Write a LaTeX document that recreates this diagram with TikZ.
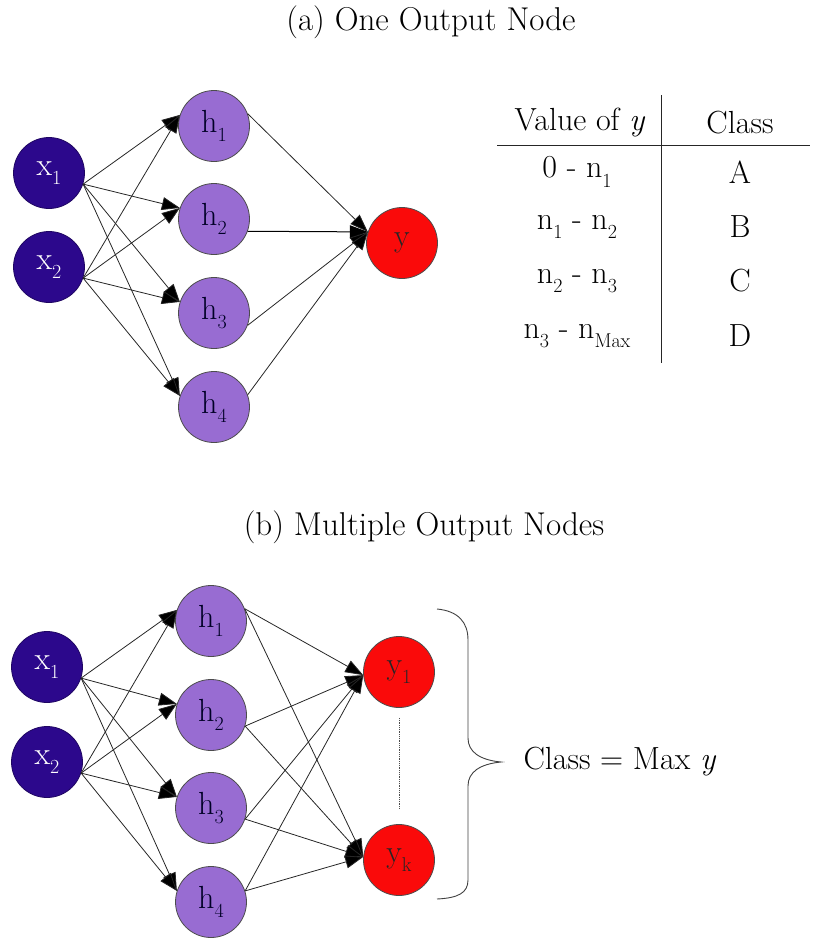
\documentclass[tikz,border=0pt]{standalone}
\usepackage{fontspec}
\usetikzlibrary{arrows.meta}
\definecolor{xblue}{RGB}{44,8,140}
\definecolor{hpurple}{RGB}{152,108,210}
\definecolor{yred}{RGB}{250,10,10}
\newcommand{\lowsub}[1]{\raisebox{-0.3em}{\fontsize{20}{20}\selectfont #1}}
\begin{document}
\begin{tikzpicture}[x=1pt,y=-1pt,
 neuron/.style={circle,draw,minimum size=71pt,inner sep=0pt,line width=0.8pt,font=\fontsize{32}{36}\selectfont},
 xnode/.style={neuron,fill=xblue,draw=xblue!70!black,text=white},
 hnode/.style={neuron,fill=hpurple,draw=black!70,text=black!85!blue},
 ynode/.style={neuron,fill=yred,draw=black!70,text=black!85},
 link/.style={draw=black!85,line width=0.8pt,-{Triangle[length=18pt,width=13pt,fill=black]}},
 title/.style={font=\fontsize{33}{38}\selectfont},
 cell/.style={font=\fontsize{32}{36}\selectfont},
 rule/.style={draw=black!85,line width=0.9pt}]
\useasboundingbox (0,0) rectangle (814,938);

% titles
\node[title] (ta) at (431,22) {(a) One Output Node};
\node[title] (tb) at (424,527) {(b) Multiple Output Nodes};

% ---------- (a) ----------
\node[xnode] (ax1) at (49,173) {x\lowsub{1}};
\node[xnode] (ax2) at (49,267) {x\lowsub{2}};
\node[hnode] (ah1) at (214,126) {h\lowsub{1}};
\node[hnode] (ah2) at (214,219) {h\lowsub{2}};
\node[hnode] (ah3) at (214,313) {h\lowsub{3}};
\node[hnode] (ah4) at (214,407) {h\lowsub{4}};
\node[ynode] (ay) at (402,243) {y};

\foreach \i in {1,2}{
  \foreach \j in {1,2,3,4}{
    \draw[link] (ax\i.-18) -- (ah\j.162);
  }
}
\draw[link] (ah1.20) -- (ay.162);
\draw[link,draw=black,line width=1pt] (ah2.-20) -- (ay.162);
\draw[link] (ah3.-20) -- (ay.162);
\draw[link] (ah4.20) -- (ay.162);

% table
\node[cell] (tv) at (580,123) {Value of \textit{y}};
\node[cell] (tc) at (740,123) {Class};
\node[cell] (r1) at (577,172) {0 - n\lowsub{1}};
\node[cell] (r2) at (577,227) {n\lowsub{1} - n\lowsub{2}};
\node[cell] (r3) at (577,281) {n\lowsub{2} - n\lowsub{3}};
\node[cell] (r4) at (577,336) {n\lowsub{3} - n\lowsub{Max}};
\node[cell] (c1) at (740,172) {A};
\node[cell] (c2) at (740,227) {B};
\node[cell] (c3) at (740,281) {C};
\node[cell] (c4) at (740,336) {D};
\draw[rule] (497,145) -- (810,145);
\draw[rule] (661,95) -- (661,363);

% ---------- (b) ----------
\node[xnode] (bx1) at (47,667) {x\lowsub{1}};
\node[xnode] (bx2) at (47,762) {x\lowsub{2}};
\node[hnode] (bh1) at (211,621) {h\lowsub{1}};
\node[hnode] (bh2) at (211,715) {h\lowsub{2}};
\node[hnode] (bh3) at (211,808) {h\lowsub{3}};
\node[hnode] (bh4) at (211,902) {h\lowsub{4}};
\node[ynode] (by1) at (399,672) {y\lowsub{1}};
\node[ynode] (byk) at (399,860) {y\lowsub{k}};

\foreach \i in {1,2}{
  \foreach \j in {1,2,3,4}{
    \draw[link] (bx\i.-18) -- (bh\j.162);
  }
}
\draw[link] (bh1.20) -- (by1.185);
\draw[link] (bh1.20) -- (byk.175);
\draw[link] (bh2.-18) -- (by1.185);
\draw[link] (bh2.-18) -- (byk.175);
\draw[link] (bh3.-18) -- (by1.185);
\draw[link] (bh3.-18) -- (byk.175);
\draw[link] (bh4.18) -- (by1.185);
\draw[link] (bh4.18) -- (byk.175);

\draw[draw=black!70,line width=0.8pt,densely dotted] ([yshift=-10pt]by1.south) -- ([yshift=15pt]byk.north);

% brace
\coordinate (btop) at (437,609);
\coordinate (btip) at (501,762);
\coordinate (bbot) at (437,899);
\draw[draw=black!75,line width=0.9pt] (btop) .. controls (458,611) and (468,622) .. (468,640)
  -- (468,738) .. controls (468,752) and (480,760) .. (btip)
  .. controls (480,764) and (468,772) .. (468,786)
  -- (468,880) .. controls (468,893) and (458,898) .. (bbot);
\node[cell,anchor=west] (cm) at (520,762) {Class = Max \textit{y}};
\end{tikzpicture}
\end{document}
